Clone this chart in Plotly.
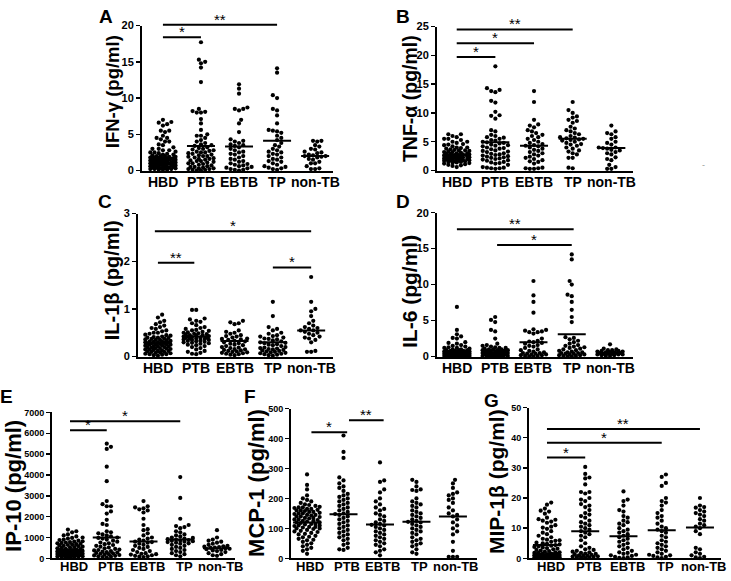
import plotly.graph_objects as go

W, H = 731, 581
groups = ["HBD", "PTB", "EBTB", "TP", "non-TB"]

# ---------------- data ----------------
ifng_hbd = [7.0, 6.7, 6.6, 6.4, 6.2, 5.5, 5.5, 5.3, 4.8, 4.5, 4.5, 4.3, 4.0, 4.0, 3.6, 3.5, 3.2, 3.0, 3.0, 2.8, 2.8, 2.6,
            2.5, 2.5, 2.4, 2.3, 2.2, 2.2, 2.1, 2.0, 2.0, 2.0, 1.9, 1.9, 1.8, 1.8, 1.8, 1.7, 1.7, 1.7, 1.6, 1.6, 1.6,
            1.5, 1.5, 1.5, 1.5, 1.4, 1.4, 1.4, 1.3, 1.3, 1.3, 1.2, 1.2, 1.2, 1.1, 1.1, 1.1, 1.0, 1.0, 1.0, 1.0, 0.9,
            0.9, 0.9, 0.8, 0.8, 0.8, 0.7, 0.7, 0.7, 0.6, 0.6, 0.6, 0.5, 0.5, 0.5, 0.4, 0.4, 0.4, 0.3, 0.3, 0.3, 0.2,
            0.2, 0.2, 0.1, 0.1, 0.1]
ifng_ptb = [17.7, 15.3, 15.0, 14.8, 14.2, 12.2, 8.5, 8.2, 8.1, 8.0, 8.0, 7.1, 6.5, 5.6, 5.0, 4.8, 4.8, 4.5, 4.2, 4.0,
            3.8, 3.6, 3.5, 3.4, 3.2, 3.1, 3.0, 2.9, 2.8, 2.7, 2.6, 2.5, 2.5, 2.4, 2.3, 2.2, 2.1, 2.0, 2.0, 1.9, 1.8,
            1.7, 1.6, 1.6, 1.5, 1.4, 1.3, 1.3, 1.2, 1.1, 1.0, 1.0, 0.9, 0.8, 0.7, 0.6, 0.5, 0.5, 0.4, 0.3, 0.3, 0.2,
            0.2, 0.1, 0.1, 0.0, 0.0]
ifng_ebtb = [11.9, 11.3, 10.6, 8.7, 8.5, 8.5, 8.3, 7.0, 6.5, 5.3, 4.3, 4.1, 4.0, 3.8, 3.6, 3.5, 3.4, 3.2, 3.0, 2.8,
             2.6, 2.5, 2.3, 2.2, 2.0, 1.8, 1.6, 1.5, 1.3, 1.2, 1.0, 0.9, 0.8, 0.7, 0.6, 0.5, 0.4, 0.3, 0.2, 0.1, 0.1,
             0.0]
ifng_tp = [14.1, 13.5, 10.4, 10.0, 8.5, 8.3, 7.6, 6.5, 5.6, 5.5, 5.4, 5.2, 4.8, 4.5, 4.2, 3.8, 3.5, 3.3, 3.0, 2.8,
           2.6, 2.5, 2.3, 2.2, 2.0, 1.8, 1.6, 1.5, 1.3, 1.2, 1.0, 0.8, 0.6, 0.5, 0.4, 0.3, 0.2, 0.1]
ifng_non = [4.1, 4.1, 4.0, 3.5, 3.3, 3.0, 2.9, 2.6, 2.5, 2.4, 2.2, 2.1, 2.0, 2.0, 1.9, 1.8, 1.6, 1.5, 1.2, 1.0, 1.0,
            0.6, 0.3, 0.2, 0.2]
ifng_med = [1.7, 3.4, 3.3, 4.1, 2.0]

tnf_hbd = [6.3, 6.3, 6.0, 5.8, 5.5, 5.5, 5.3, 5.0, 5.0, 4.8, 4.6, 4.5, 4.4, 4.2, 4.0, 4.0, 3.9, 3.8, 3.7, 3.6, 3.5,
           3.5, 3.4, 3.3, 3.2, 3.2, 3.1, 3.0, 3.0, 2.9, 2.9, 2.8, 2.8, 2.7, 2.7, 2.6, 2.6, 2.5, 2.5, 2.5, 2.4, 2.4,
           2.3, 2.3, 2.3, 2.2, 2.2, 2.1, 2.1, 2.0, 2.0, 2.0, 1.9, 1.9, 1.8, 1.8, 1.8, 1.7, 1.7, 1.6, 1.6, 1.5, 1.5,
           1.4, 1.4, 1.3, 1.2, 1.1, 1.0, 0.9, 0.8, 0.6]
tnf_ptb = [18.1, 14.3, 14.0, 13.8, 13.6, 12.1, 11.8, 10.2, 9.6, 9.5, 9.0, 7.0, 6.8, 6.2, 6.0, 5.8, 5.7, 5.5, 5.3, 5.2,
           5.0, 4.9, 4.8, 4.7, 4.5, 4.4, 4.3, 4.2, 4.0, 3.9, 3.8, 3.7, 3.5, 3.4, 3.3, 3.2, 3.0, 2.9, 2.8, 2.7, 2.6,
           2.5, 2.4, 2.3, 2.2, 2.1, 2.0, 1.9, 1.8, 1.7, 1.5, 1.4, 1.3, 1.2, 1.0, 0.6, 0.5, 0.5, 0.4, 0.4, 0.3]
tnf_ebtb = [13.8, 11.9, 8.8, 8.0, 7.8, 7.5, 7.0, 6.8, 6.5, 6.2, 6.0, 5.8, 5.5, 5.3, 5.0, 4.8, 4.6, 4.4, 4.3, 4.2, 4.0,
            3.8, 3.6, 3.4, 3.2, 3.0, 2.8, 2.6, 2.4, 2.2, 2.0, 1.8, 1.6, 1.5, 1.2, 0.5, 0.4, 0.4, 0.3, 0.3]
tnf_tp = [11.9, 10.5, 10.0, 9.4, 9.2, 8.8, 8.6, 8.3, 7.6, 7.3, 7.0, 6.8, 6.5, 6.3, 6.0, 5.8, 5.7, 5.6, 5.5, 5.4, 5.3,
          5.2, 5.0, 4.8, 4.6, 4.5, 4.3, 4.0, 3.8, 3.5, 3.3, 3.0, 2.8, 2.2, 2.2, 0.5, 0.4]
tnf_non = [7.8, 6.8, 6.5, 6.3, 5.8, 5.5, 5.0, 4.8, 4.5, 4.0, 4.0, 3.9, 3.8, 3.6, 3.5, 3.2, 3.0, 2.8, 2.3, 2.0, 1.8,
           1.0, 0.6, 0.3, 0.3]
tnf_med = [2.7, 4.9, 4.3, 5.5, 3.9]

il1b_hbd = [0.88, 0.82, 0.75, 0.72, 0.68, 0.65, 0.62, 0.60, 0.58, 0.55, 0.53, 0.50, 0.50, 0.48, 0.46, 0.45, 0.44,
            0.42, 0.41, 0.40, 0.40, 0.39, 0.38, 0.37, 0.36, 0.35, 0.35, 0.34, 0.33, 0.32, 0.32, 0.31, 0.30, 0.30,
            0.30, 0.29, 0.28, 0.28, 0.27, 0.26, 0.26, 0.25, 0.25, 0.24, 0.23, 0.22, 0.22, 0.21, 0.20, 0.20, 0.19,
            0.18, 0.18, 0.17, 0.16, 0.15, 0.15, 0.14, 0.13, 0.12, 0.12, 0.11, 0.10, 0.10, 0.09, 0.08, 0.07, 0.06,
            0.05, 0.05, 0.04, 0.03, 0.02]
il1b_ptb = [0.98, 0.98, 0.80, 0.78, 0.75, 0.73, 0.70, 0.66, 0.62, 0.60, 0.58, 0.56, 0.55, 0.54, 0.52, 0.51, 0.50,
            0.49, 0.48, 0.47, 0.46, 0.45, 0.45, 0.44, 0.43, 0.42, 0.42, 0.41, 0.40, 0.40, 0.39, 0.38, 0.38, 0.37,
            0.36, 0.35, 0.35, 0.34, 0.33, 0.32, 0.31, 0.30, 0.29, 0.28, 0.27, 0.25, 0.24, 0.22, 0.20, 0.18, 0.15,
            0.12, 0.10, 0.08, 0.06, 0.05]
il1b_ebtb = [0.75, 0.72, 0.70, 0.68, 0.55, 0.52, 0.50, 0.48, 0.45, 0.43, 0.42, 0.40, 0.38, 0.37, 0.36, 0.35, 0.33,
             0.32, 0.30, 0.28, 0.27, 0.25, 0.24, 0.22, 0.20, 0.19, 0.18, 0.16, 0.15, 0.14, 0.13, 0.12, 0.11, 0.10,
             0.09, 0.08, 0.07, 0.06, 0.05, 0.04, 0.03]
il1b_tp = [1.15, 0.85, 0.62, 0.58, 0.55, 0.50, 0.48, 0.45, 0.43, 0.42, 0.40, 0.38, 0.37, 0.36, 0.34, 0.32, 0.30, 0.29,
           0.28, 0.26, 0.25, 0.24, 0.22, 0.20, 0.19, 0.18, 0.17, 0.16, 0.15, 0.14, 0.13, 0.12, 0.11, 0.10, 0.09, 0.08,
           0.07, 0.06, 0.05, 0.04, 0.03, 0.02]
il1b_non = [1.67, 1.15, 1.00, 0.95, 0.85, 0.75, 0.70, 0.65, 0.62, 0.60, 0.58, 0.55, 0.55, 0.52, 0.50, 0.48, 0.45,
            0.42, 0.40, 0.38, 0.35, 0.30, 0.12, 0.10, 0.10]
il1b_med = [0.28, 0.42, 0.33, 0.30, 0.55]

il6_hbd = [6.9, 3.7, 3.1, 2.8, 2.6, 2.5, 2.0, 1.9, 1.8, 1.6, 1.5, 1.4, 1.3, 1.2, 1.2, 1.1, 1.0, 1.0, 0.9, 0.9, 0.9, 0.8,
           0.8, 0.8, 0.7, 0.7, 0.7, 0.7, 0.6, 0.6, 0.6, 0.6, 0.5, 0.5, 0.5, 0.5, 0.5, 0.4, 0.4, 0.4, 0.4, 0.3, 0.3,
           0.3, 0.3, 0.3, 0.2, 0.2, 0.2, 0.2, 0.2, 0.1, 0.1, 0.1, 0.1, 0.1, 0.0, 0.0, 0.0, 0.0]
il6_ptb = [5.5, 5.1, 4.8, 3.7, 3.5, 2.5, 1.8, 1.6, 1.5, 1.4, 1.3, 1.2, 1.2, 1.1, 1.0, 1.0, 1.0, 0.9, 0.9, 0.9, 0.8, 0.8,
           0.8, 0.7, 0.7, 0.7, 0.6, 0.6, 0.6, 0.5, 0.5, 0.5, 0.5, 0.4, 0.4, 0.4, 0.3, 0.3, 0.3, 0.3, 0.2, 0.2, 0.2,
           0.2, 0.1, 0.1, 0.1, 0.1, 0.0, 0.0, 0.0]
il6_ebtb = [10.5, 8.5, 7.6, 6.1, 3.8, 3.7, 3.6, 3.5, 3.4, 3.4, 3.2, 2.5, 2.2, 2.1, 2.0, 1.9, 1.8, 1.6, 1.5, 1.4, 1.2,
            1.0, 0.9, 0.8, 0.7, 0.6, 0.5, 0.5, 0.4, 0.4, 0.3, 0.3, 0.2, 0.2, 0.1, 0.1, 0.0, 0.0]
il6_tp = [14.2, 13.5, 10.5, 10.0, 8.6, 8.4, 7.6, 6.5, 5.5, 4.8, 2.7, 2.6, 2.4, 2.2, 2.0, 1.8, 1.6, 1.5, 1.4, 1.3, 1.2,
          1.1, 1.0, 0.9, 0.8, 0.7, 0.6, 0.6, 0.5, 0.5, 0.4, 0.4, 0.3, 0.3, 0.2, 0.2, 0.1, 0.1, 0.0, 0.0]
il6_non = [1.7, 1.1, 1.0, 0.9, 0.9, 0.8, 0.8, 0.7, 0.7, 0.6, 0.6, 0.6, 0.5, 0.5, 0.5, 0.4, 0.4, 0.4, 0.3, 0.3, 0.3,
           0.2, 0.2, 0.1, 0.1]
il6_med = [0.8, 0.9, 2.0, 3.1, 0.5]

ip10_hbd = [1380, 1300, 1250, 1150, 1100, 1050, 1000, 980, 950, 900, 880, 850, 820, 800, 780, 760, 740, 720, 700, 680,
            660, 640, 620, 600, 580, 560, 540, 520, 500, 480, 460, 440, 420, 400, 390, 380, 370, 360, 350, 340, 330,
            320, 310, 300, 290, 280, 270, 260, 250, 240, 230, 220, 210, 200, 190, 180, 170, 160, 150, 140, 130, 120,
            110, 100, 90, 80, 70, 60, 50, 40]
ip10_ptb = [5500, 5350, 5250, 4400, 3700, 2750, 2600, 2500, 2500, 2250, 2150, 1850, 1650, 1600, 1300, 1250, 1200, 1150,
            1100, 1050, 1000, 980, 950, 900, 850, 800, 760, 720, 680, 640, 600, 560, 520, 480, 450, 420, 400, 380, 350,
            320, 300, 280, 260, 240, 220, 200, 180, 160, 140, 120, 100, 80, 60, 40]
ip10_ebtb = [2750, 2500, 2450, 2400, 2350, 2300, 2200, 1900, 1600, 1400, 1350, 1200, 1100, 1000, 950, 900, 850, 800,
             780, 750, 700, 650, 600, 550, 500, 450, 400, 350, 300, 250, 220, 200, 180, 150, 120, 100, 80, 60]
ip10_tp = [3900, 2900, 1900, 1600, 1550, 1500, 1450, 1300, 1250, 1150, 1100, 1050, 1000, 980, 950, 920, 900, 880, 860,
           840, 820, 800, 780, 750, 720, 700, 650, 600, 550, 500, 450, 400, 350, 300, 250, 200, 150, 100]
ip10_non = [1350, 1000, 900, 850, 800, 750, 700, 650, 600, 580, 560, 540, 520, 500, 480, 460, 440, 400, 380, 350, 300,
            250, 200, 150, 120]
ip10_med = [410, 1000, 810, 900, 490]

mcp1_hbd = [280, 245, 230, 210, 200, 195, 190, 185, 180, 178, 175, 172, 170, 168, 165, 162, 160, 158, 155, 152, 150,
            148, 145, 143, 140, 138, 135, 133, 130, 128, 125, 123, 120, 118, 115, 113, 110, 108, 105, 103, 100, 98, 95,
            92, 90, 88, 85, 82, 80, 75, 72, 70, 65, 62, 60, 55, 50, 45, 40, 35, 30, 25, 15, 170, 165, 150, 140, 130,
            120, 110, 100, 160, 145, 135, 125, 115, 105, 155]
mcp1_ptb = [410, 355, 335, 270, 260, 250, 240, 235, 225, 215, 210, 205, 200, 195, 190, 185, 180, 175, 170, 165, 160,
            155, 150, 148, 145, 140, 135, 130, 125, 120, 115, 110, 105, 100, 95, 90, 85, 80, 75, 70, 65, 60, 50, 45,
            35, 30, 28]
mcp1_ebtb = [320, 260, 255, 230, 220, 200, 190, 180, 170, 165, 160, 150, 145, 140, 130, 125, 120, 115, 112, 110, 105,
             100, 95, 90, 85, 80, 75, 70, 65, 60, 55, 50, 45, 40, 30, 25, 20, 10]
mcp1_tp = [262, 255, 240, 230, 228, 225, 200, 190, 185, 180, 175, 170, 160, 155, 150, 145, 140, 135, 130, 125, 122,
           120, 115, 110, 105, 100, 95, 90, 85, 80, 70, 65, 60, 55, 50, 45, 40, 30, 20, 15]
mcp1_non = [262, 250, 235, 220, 215, 210, 200, 195, 185, 170, 160, 150, 145, 140, 130, 120, 110, 100, 90, 80, 55, 25,
            5, 5, 5]
mcp1_med = [120, 147, 113, 122, 140]

mip1b_hbd = [18.5, 17.8, 16.5, 15.8, 15.5, 14.8, 13.5, 13.0, 12.8, 12.5, 12.2, 11.8, 11.0, 10.5, 10.2, 9.8, 9.0, 8.5,
             8.0, 7.5, 7.0, 6.5, 6.2, 6.0, 5.8, 5.5, 5.2, 5.0, 4.8, 4.6, 4.4, 4.2, 4.0, 3.8, 3.6, 3.4, 3.2, 3.0, 2.8,
             2.6, 2.4, 2.2, 2.0, 2.0, 1.8, 1.8, 1.6, 1.6, 1.5, 1.4, 1.4, 1.3, 1.2, 1.2, 1.1, 1.0, 1.0, 0.9, 0.9, 0.8,
             0.8, 0.7, 0.7, 0.6, 0.6, 0.5, 0.5, 0.4, 0.4, 0.3, 0.3, 0.2, 0.2, 0.1, 0.1]
mip1b_ptb = [30.3, 28.0, 26.8, 26.5, 24.5, 22.0, 22.0, 21.5, 20.0, 19.5, 19.0, 18.0, 17.5, 17.0, 16.0, 15.0, 14.5, 14.0,
             13.5, 12.5, 12.0, 11.5, 11.0, 10.5, 10.0, 9.5, 9.0, 8.5, 8.0, 7.5, 7.0, 6.0, 5.0, 4.0, 3.5, 3.0, 2.8, 2.5,
             2.2, 2.0, 1.8, 1.6, 1.5, 1.4, 1.2, 1.0, 0.9, 0.8, 0.7, 0.6, 0.5, 0.4, 0.3, 0.2, 0.1]
mip1b_ebtb = [22.2, 19.5, 19.0, 17.5, 16.0, 15.5, 14.0, 13.5, 12.5, 12.0, 11.5, 11.0, 10.0, 9.5, 9.0, 8.5, 8.0, 7.5,
              7.0, 6.5, 6.0, 5.5, 5.0, 4.5, 4.0, 3.5, 3.0, 2.5, 2.0, 1.8, 1.5, 1.2, 1.0, 0.8, 0.5, 0.3, 0.2, 0.1]
mip1b_tp = [27.8, 27.0, 25.0, 24.0, 20.0, 19.0, 18.5, 17.5, 16.0, 15.0, 14.0, 13.5, 12.5, 11.5, 10.5, 10.0, 9.5, 9.0,
            8.5, 7.5, 7.0, 6.0, 5.5, 5.0, 4.5, 4.0, 3.5, 3.0, 2.5, 2.0, 1.5, 1.2, 1.0, 0.8, 0.5, 0.3, 0.1]
mip1b_non = [20.0, 17.5, 17.0, 16.8, 16.0, 15.5, 15.0, 14.5, 14.0, 13.0, 12.5, 11.5, 11.0, 10.5, 10.0, 9.0, 8.0, 3.5,
             3.0, 2.0, 1.5, 1.0, 0.5, 0.3, 0.1]
mip1b_med = [4.4, 9.0, 7.3, 9.3, 10.2]

# significance bars: (from group, to group, level, label)
ifng_sig = [(0, 1, 18.4, "*"), (0, 3, 20.1, "**")]
tnf_sig = [(0, 1, 19.7, "*"), (0, 2, 22.1, "*"), (0, 3, 24.5, "**")]
il1b_sig = [(-0.08, 4, 2.63, "*"), (0, 0.95, 1.97, "**"), (3, 4, 1.87, "*")]
il6_sig = [(0, 3.05, 17.7, "**"), (1.05, 3, 15.5, "*")]
ip10_sig = [(0, 1, 6150, "*"), (0, 3, 6580, "*")]
mcp1_sig = [(0.12, 1.1, 421, "*"), (1.15, 2.1, 461, "**")]
mip1b_sig = [(0, 1, 33.4, "*"), (0, 3, 38.3, "*"), (0, 4, 42.9, "**")]

# ---------------- panel layout (pixels) ----------------
panels = [
    dict(letter="A", title="IFN-γ (pg/ml)", data=[ifng_hbd, ifng_ptb, ifng_ebtb, ifng_tp, ifng_non], med=ifng_med,
         sig=ifng_sig, tmax=20, dtick=5, xL=142, xR=333, xr=[-0.55, 4.47], y0=168, yT=20, top=4,
         tfs=18.5, tx=112, ty=88, lx=106, ly=11, tick=11, cat=14, cy=180, cdx=0),
    dict(letter="B", title="TNF-α (pg/ml)", data=[tnf_hbd, tnf_ptb, tnf_ebtb, tnf_tp, tnf_non], med=tnf_med,
         sig=tnf_sig, tmax=25, dtick=5, xL=437, xR=633, xr=[-0.51, 4.56], y0=168, yT=21, top=4,
         tfs=19.5, tx=410, ty=95, lx=403, ly=11, tick=11, cat=14, cy=180, cdx=0),
    dict(letter="C", title="IL-1β (pg/ml)", data=[il1b_hbd, il1b_ptb, il1b_ebtb, il1b_tp, il1b_non], med=il1b_med,
         sig=il1b_sig, tmax=3, dtick=1, xL=138, xR=333, xr=[-0.52, 4.57], y0=358, yT=212, top=196,
         tfs=20, tx=112, ty=280, lx=105, ly=200, tick=11, cat=14, cy=370, cdx=0),
    dict(letter="D", title="IL-6 (pg/ml)", data=[il6_hbd, il6_ptb, il6_ebtb, il6_tp, il6_non], med=il6_med,
         sig=il6_sig, tmax=20, dtick=5, xL=437, xR=633, xr=[-0.52, 4.6], y0=358, yT=211, top=196,
         tfs=21, tx=410, ty=292, lx=403, ly=200, tick=11, cat=14, cy=370, cdx=0),
    dict(letter="E", title="IP-10 (pg/ml)", data=[ip10_hbd, ip10_ptb, ip10_ebtb, ip10_tp, ip10_non], med=ip10_med,
         sig=ip10_sig, tmax=7000, dtick=1000, xL=52, xR=235, xr=[-0.49, 4.49], y0=564, yT=415, top=400,
         tfs=22, tx=14, ty=490, lx=6, ly=399, tick=9, cat=13, cy=572, cdx=4),
    dict(letter="F", title="MCP-1 (pg/ml)", data=[mcp1_hbd, mcp1_ptb, mcp1_ebtb, mcp1_tp, mcp1_non], med=mcp1_med,
         sig=mcp1_sig, tmax=500, dtick=100, xL=291, xR=477, xr=[-0.44, 4.66], y0=564, yT=411, top=400,
         tfs=22, tx=257, ty=487, lx=250, ly=399, tick=9, cat=13, cy=572, cdx=3),
    dict(letter="G", title="MIP-1β (pg/ml)", data=[mip1b_hbd, mip1b_ptb, mip1b_ebtb, mip1b_tp, mip1b_non],
         med=mip1b_med, sig=mip1b_sig, tmax=50, dtick=10, xL=529, xR=721, xr=[-0.47, 4.55], y0=564, yT=410,
         top=400, tfs=21, tx=497, ty=486, lx=491, ly=403, tick=9, cat=13, cy=572, cdx=4),
]

FONT = "Liberation Sans, Arial, sans-serif"
DOT = 4.2        # marker diameter in px
HALF = 14.0      # max half-width of a swarm column in px


def swarm(vals, ppu_y, ppu_x):
    """Deterministic beeswarm offsets (category units) for a column of values."""
    idx = sorted(range(len(vals)), key=lambda i: vals[i])
    placed = []
    out = [0.0] * len(vals)
    step = DOT * 0.5
    nmax = int(HALF / step)
    for n, i in enumerate(idx):
        y = vals[i] * ppu_y
        sgn = 1 if n % 2 == 0 else -1
        cands = [0.0]
        for k in range(1, nmax + 1):
            cands += [sgn * k * step, -sgn * k * step]
        near = [(px, py) for (px, py) in placed if abs(py - y) < DOT]
        best, bestd = 0.0, -1.0
        for c in cands:
            md = min((((c - px) ** 2 + (y - py) ** 2) ** 0.5 for px, py in near), default=1e9)
            if md >= DOT:
                best = c
                break
            if md > bestd:
                bestd, best = md, c
        placed.append((best, y))
        out[i] = best / ppu_x
    return out


fig = go.Figure()
layout = dict(width=W, height=H, margin=dict(l=0, r=0, t=0, b=0), showlegend=False,
              paper_bgcolor="white", plot_bgcolor="rgba(0,0,0,0)", font=dict(family=FONT, color="black"))
annotations = []

n = len(panels)
for k, p in enumerate(panels):
    i = k + 1
    xa = "x" if i == 1 else f"x{i}"
    ya = "y" if i == 1 else f"y{i}"
    yo_i = n + i
    yo = f"y{yo_i}"
    ppu_y = (p["y0"] - p["yT"]) / p["tmax"]
    ppu_x = (p["xR"] - p["xL"]) / (p["xr"][1] - p["xr"][0])

    # points
    xs, ys = [], []
    for g, vals in enumerate(p["data"]):
        offs = swarm(vals, ppu_y, ppu_x)
        xs += [g + o for o in offs]
        ys += vals
    fig.add_trace(go.Scatter(x=xs, y=ys, mode="markers", xaxis=xa, yaxis=ya, cliponaxis=False,
                             marker=dict(size=DOT, color="black", line=dict(width=0)), hoverinfo="skip"))
    # median lines
    hw = HALF / ppu_x
    mx, my = [], []
    for g, m in enumerate(p["med"]):
        mx += [g - hw, g + hw, None]
        my += [m, m, None]
    fig.add_trace(go.Scatter(x=mx, y=my, mode="lines", xaxis=xa, yaxis=ya,
                             line=dict(color="black", width=2), hoverinfo="skip"))
    # significance bars on an overlay axis with the same scale but a taller domain
    sx, sy = [], []
    for (a, b, lv, lab) in p["sig"]:
        sx += [a, b, None]
        sy += [lv, lv, None]
        annotations.append(dict(x=(a + b) / 2, y=lv, xref=xa, yref=yo, text=lab, showarrow=False,
                                yanchor="bottom", yshift=-5, font=dict(size=15, family=FONT, color="black")))
    fig.add_trace(go.Scatter(x=sx, y=sy, mode="lines", xaxis=xa, yaxis=yo,
                             line=dict(color="black", width=2), hoverinfo="skip"))

    # category labels (placed in paper space under each category position)
    for g, name in enumerate(groups):
        cx = p["xL"] + (g - p["xr"][0]) * ppu_x + p["cdx"]
        annotations.append(dict(x=cx / W, y=1 - p["cy"] / H, xref="paper", yref="paper", text=name,
                                showarrow=False, xanchor="center", yanchor="middle", borderpad=0,
                                font=dict(size=p["cat"], family=FONT, color="black", weight="bold")))

    xdom = [p["xL"] / W, p["xR"] / W]
    ydom = [1 - p["y0"] / H, 1 - p["yT"] / H]
    ydom_o = [1 - p["y0"] / H, 1 - p["top"] / H]
    top_val = p["tmax"] * (p["y0"] - p["top"]) / (p["y0"] - p["yT"])

    layout["xaxis" if i == 1 else f"xaxis{i}"] = dict(
        domain=xdom, range=p["xr"], anchor=ya, showline=True, linewidth=2, linecolor="black",
        showgrid=False, zeroline=False, ticks="", showticklabels=False, fixedrange=True)
    layout["yaxis" if i == 1 else f"yaxis{i}"] = dict(
        domain=ydom, range=[0, p["tmax"]], anchor=xa, showline=True, linewidth=2, linecolor="black",
        showgrid=False, zeroline=False, ticks="outside", ticklen=4, tickwidth=1.5, tickcolor="black",
        dtick=p["dtick"], tick0=0, tickfont=dict(size=p["tick"], family=FONT, color="black", weight="bold"),
        fixedrange=True)
    layout[f"yaxis{yo_i}"] = dict(domain=ydom_o, range=[0, top_val], anchor=xa, visible=False,
                                  showgrid=False, zeroline=False, fixedrange=True)

    # y title and panel letter
    annotations.append(dict(x=p["tx"] / W, y=1 - p["ty"] / H, xref="paper", yref="paper", text=p["title"],
                            textangle=-90, showarrow=False, xanchor="center", yanchor="middle",
                            font=dict(size=p["tfs"], family=FONT, color="black", weight="bold")))
    annotations.append(dict(x=p["lx"] / W, y=1 - p["ly"] / H, xref="paper", yref="paper", text=p["letter"],
                            showarrow=False, xanchor="center", yanchor="middle",
                            font=dict(size=19, family=FONT, color="black", weight="bold")))

# small stray grey dash on the right of panel B
annotations.append(dict(x=707 / W, y=1 - 155 / H, xref="paper", yref="paper", text="-", showarrow=False,
                        font=dict(size=9, family=FONT, color="#9a9a9a")))

layout["annotations"] = annotations
fig.update_layout(**layout)
fig.write_html("out.html", config={"displayModeBar": False, "staticPlot": True},
               post_script="document.body.style.margin='0px';document.body.style.overflow='hidden';")
